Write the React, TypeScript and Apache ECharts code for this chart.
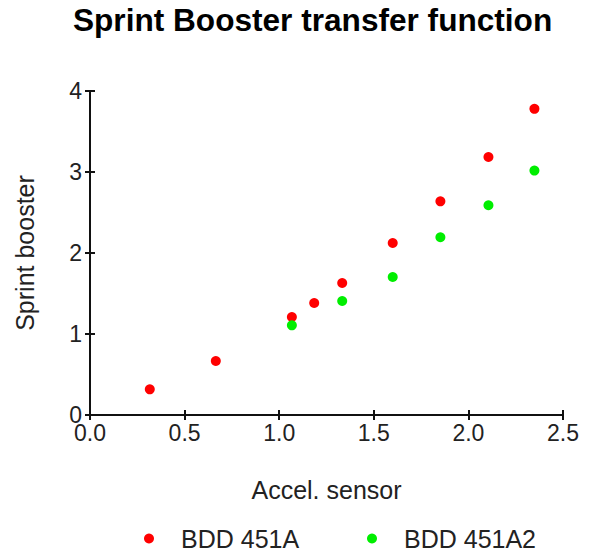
import React, { useEffect, useRef } from "react";
import * as echarts from "echarts";

const titleText = "Sprint Booster transfer function";
const xName = "Accel. sensor";
const yName = "Sprint booster";
const seriesNames = ["BDD 451A", "BDD 451A2"];
const redX = [0.316, 0.665, 1.067, 1.185, 1.333, 1.6, 1.852, 2.106, 2.349];
const redY = [0.317, 0.667, 1.21, 1.383, 1.63, 2.123, 2.638, 3.185, 3.78];
const greenX = [1.067, 1.333, 1.6, 1.852, 2.106, 2.349];
const greenY = [1.107, 1.407, 1.704, 2.194, 2.589, 3.017];
const colors = ["#ff0000", "#00ee00"];

const FONT = "Liberation Sans, Arial, sans-serif";
const AXIS_COLOR = "#111";
const TEXT_COLOR = "#222";

export default function App() {
  const ref = useRef<HTMLDivElement>(null);
  useEffect(() => {
    if (!ref.current) return;
    const chart = echarts.init(ref.current, undefined, { renderer: "svg" });
    const xBase = {
      type: "value" as const,
      min: 0,
      max: 2.5,
      interval: 0.5,
      splitLine: { show: false },
    };
    const yBase = {
      type: "value" as const,
      min: 0,
      max: 4,
      interval: 1,
      splitLine: { show: false },
    };
    const legendBase = {
      orient: "horizontal" as const,
      top: 526,
      padding: 0,
      itemWidth: 10,
      itemHeight: 10,
      icon: "circle",
      textStyle: {
        fontFamily: FONT,
        fontSize: 25,
        color: TEXT_COLOR,
        padding: [0, 0, 0, 22],
      },
      itemStyle: { opacity: 1 },
    };
    chart.setOption({
      animation: false,
      backgroundColor: "#ffffff",
      title: {
        text: titleText,
        left: 73,
        top: 4,
        padding: 0,
        textStyle: { fontFamily: FONT, fontSize: 31.6, fontWeight: "bold", color: "#000" },
      },
      legend: [
        { ...legendBase, left: 144, data: [seriesNames[0]] },
        { ...legendBase, left: 367, data: [seriesNames[1]] },
      ],
      grid: { left: 90, right: 40, top: 91, bottom: 144, containLabel: false },
      xAxis: [
        {
          ...xBase,
          name: xName,
          nameLocation: "middle",
          nameGap: 62,
          nameTextStyle: { fontFamily: FONT, fontSize: 25, color: TEXT_COLOR },
          axisLine: { show: true, lineStyle: { color: AXIS_COLOR, width: 2 } },
          axisTick: { show: true, inside: false, length: 5, lineStyle: { color: AXIS_COLOR, width: 2 } },
          axisLabel: {
            margin: 9,
            lineHeight: 17,
            fontFamily: FONT,
            fontSize: 23,
            color: TEXT_COLOR,
            formatter: (v: number) => v.toFixed(1),
          },
        },
        {
          ...xBase,
          position: "bottom",
          axisLine: { show: false },
          axisTick: { show: true, inside: true, length: 5, lineStyle: { color: AXIS_COLOR, width: 2 } },
          axisLabel: { show: false },
        },
      ],
      yAxis: [
        {
          ...yBase,
          name: yName,
          nameLocation: "middle",
          nameGap: 53,
          nameTextStyle: { fontFamily: FONT, fontSize: 25, color: TEXT_COLOR },
          axisLine: { show: true, lineStyle: { color: AXIS_COLOR, width: 2 } },
          axisTick: { show: true, inside: false, length: 5, lineStyle: { color: AXIS_COLOR, width: 2 } },
          axisLabel: { margin: 8, lineHeight: 17, fontFamily: FONT, fontSize: 23, color: TEXT_COLOR },
        },
        {
          ...yBase,
          position: "left",
          axisLine: { show: false },
          axisTick: { show: true, inside: true, length: 5, lineStyle: { color: AXIS_COLOR, width: 2 } },
          axisLabel: { show: false },
        },
      ],
      series: [
        {
          name: seriesNames[0],
          type: "scatter",
          xAxisIndex: 0,
          yAxisIndex: 0,
          symbol: "circle",
          symbolSize: 10,
          itemStyle: { color: colors[0], opacity: 1 },
          data: redX.map((x, i) => [x, redY[i]]),
        },
        {
          name: seriesNames[1],
          type: "scatter",
          xAxisIndex: 0,
          yAxisIndex: 0,
          symbol: "circle",
          symbolSize: 10,
          itemStyle: { color: colors[1], opacity: 1 },
          data: greenX.map((x, i) => [x, greenY[i]]),
        },
      ],
    });
    return () => chart.dispose();
  }, []);
  return (
    <div
      ref={ref}
      style={{ position: "fixed", left: 0, top: 0, width: 603, height: 559, background: "#fff" }}
    />
  );
}
